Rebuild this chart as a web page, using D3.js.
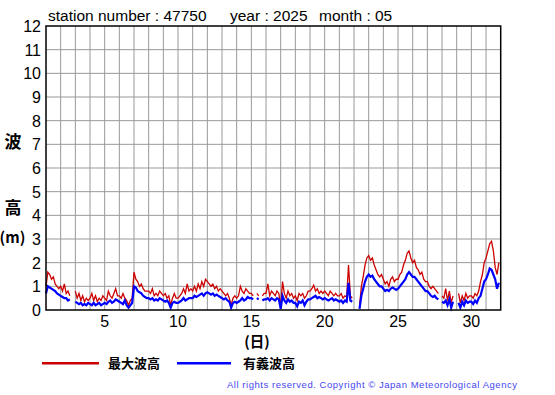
<!DOCTYPE html>
<html>
<head>
<meta charset="utf-8">
<script src="https://cdn.jsdelivr.net/npm/d3@7"></script>
<style>
  body { margin: 0; background: #fff; }
  svg { display: block; }
  text { font-family: "Liberation Sans", Arial, sans-serif; }
  .jp { font-family: "Noto Sans CJK JP", sans-serif; font-weight: bold; }
</style>
</head>
<body>
<svg id="chart" width="555" height="395"></svg>
<script>
// wave heights every 3 hours, one row per day (May 2025), null = missing
const sigWave = [
  0.7, 1.0, 0.95, 0.9, 0.85, 0.8, 0.7, 0.65,
  0.6, 0.55, 0.5, 0.5, 0.4, 0.45, null, null,
  0.35, 0.3, 0.25, 0.3, 0.2, 0.25, 0.2, 0.3,
  0.25, 0.2, 0.3, 0.2, 0.25, 0.3, 0.2, 0.25,
  0.3, 0.25, 0.35, 0.4, 0.3, 0.35, 0.45, 0.4,
  0.35, 0.3, 0.25, 0.4, 0.2, 0.1, 0.2, 0.3,
  1.0, 0.95, 0.8, 0.75, 0.7, 0.6, 0.55, 0.5,
  0.5, 0.45, 0.5, 0.4, 0.45, 0.4, 0.5, 0.45,
  0.4, 0.35, 0.4, 0.3, 0.1, 0.3, 0.35, 0.3,
  0.3, 0.35, 0.4, 0.5, 0.4, 0.45, 0.5, 0.5,
  0.5, 0.6, 0.55, 0.6, 0.65, 0.7, 0.6, 0.7,
  0.75, 0.7, 0.65, 0.7, 0.6, 0.65, 0.6, 0.55,
  0.5, 0.45, 0.5, 0.4, 0.35, 0.1, 0.3, 0.35,
  0.3, 0.35, 0.4, 0.5, 0.4, 0.45, 0.55, 0.5,
  0.5, 0.45, null, 0.5, 0.45, null, 0.4, 0.45,
  0.45, 0.5, 0.4, 0.5, 0.45, 0.4, 0.5, 0.45,
  0.05, 0.6, 0.4, 0.3, 0.45, 0.35, 0.4, 0.3,
  0.3, 0.15, 0.35, 0.3, 0.4, 0.2, 0.35, 0.45,
  0.45, 0.5, 0.55, 0.6, 0.5, 0.55, 0.5, 0.45,
  0.5, 0.45, 0.4, 0.45, 0.5, 0.4, 0.45, 0.4,
  0.35, 0.4, 0.3, 0.4, 0.35, 1.15, 0.4, 0.35,
  null, null, null, 0.05, 0.6, 0.9, 1.2, 1.4,
  1.5, 1.4, 1.45, 1.3, 1.2, 1.1, 1.0, 1.0,
  0.9, 0.8, 0.85, 0.8, 0.9, 0.95, 0.9, 0.85,
  0.9, 1.0, 1.1, 1.2, 1.3, 1.5, 1.6, 1.5,
  1.4, 1.4, 1.3, 1.2, 1.1, 1.0, 0.9, 0.8,
  0.8, 0.7, 0.6, 0.55, 0.6, 0.5, 0.45, null,
  0.35, 0.3, 0.4, 0.2, 0.45, 0.1, 0.35, null,
  null, 0.3, 0.1, 0.35, 0.2, 0.4, 0.3, 0.35,
  0.35, 0.25, 0.4, 0.3, 0.5, 0.6, 0.9, 1.2,
  1.3, 1.5, 1.75, 1.7, 1.5, 1.3, 0.9, 1.15
];
const maxWave = [
  1.0, 1.6, 1.5, 1.3, 1.4, 1.1, 1.0, 0.9,
  1.0, 0.8, 1.1, 0.7, 0.8, 0.6, null, null,
  0.8, 0.5, 0.7, 0.4, 0.6, 0.35, 0.5, 0.4,
  0.5, 0.7, 0.4, 0.6, 0.35, 0.5, 0.4, 0.6,
  0.5, 0.4, 0.8, 0.6, 0.5, 0.7, 0.9, 0.6,
  0.6, 0.5, 0.7, 0.5, 0.4, 0.2, 0.4, 0.5,
  1.6, 1.3, 1.2, 1.0, 1.1, 0.9, 0.8, 0.8,
  0.8, 0.7, 0.9, 0.6, 0.7, 0.6, 0.8, 0.7,
  0.6, 0.7, 0.5, 0.6, 0.2, 0.5, 0.7, 0.5,
  0.5, 0.6, 0.7, 0.9, 0.7, 1.1, 0.8, 0.9,
  0.8, 1.0, 0.8, 1.1, 0.9, 1.2, 1.0, 1.3,
  1.2, 1.1, 1.0, 1.1, 0.9, 1.0, 0.8, 0.9,
  0.8, 0.7, 0.6, 0.7, 0.5, 0.2, 0.5, 0.6,
  0.5, 0.6, 1.0, 0.8, 0.7, 0.9, 0.8, 0.7,
  0.7, 0.6, null, 0.7, 0.6, null, 0.6, 0.7,
  0.7, 1.1, 0.6, 0.8, 0.7, 0.6, 0.8, 0.7,
  0.1, 1.2, 0.7, 0.5, 0.8, 0.6, 0.7, 0.5,
  0.6, 0.4, 0.7, 0.6, 0.7, 0.5, 0.6, 0.8,
  0.8, 0.9, 1.05, 0.8, 0.9, 0.7, 0.8, 0.7,
  0.8, 0.7, 0.6, 0.8, 0.7, 0.6, 0.7, 0.6,
  0.6, 0.7, 0.5, 0.6, 0.55, 1.9, 0.6, 0.5,
  null, null, null, 0.15, 1.0, 1.4, 1.9, 2.2,
  2.3, 2.1, 2.2, 1.9, 1.7, 1.5, 1.4, 1.5,
  1.3, 1.1, 1.2, 1.0, 1.3, 1.4, 1.2, 1.3,
  1.3, 1.5, 1.6, 1.9, 2.1, 2.4, 2.5, 2.2,
  2.0, 2.1, 1.8, 1.7, 1.5, 1.6, 1.3, 1.2,
  1.2, 1.0, 0.9, 1.0, 0.9, 0.8, 0.7, null,
  0.6, 0.5, 0.9, 0.4, 0.8, 0.3, 0.6, null,
  null, 0.7, 0.3, 0.6, 0.4, 0.7, 0.5, 0.6,
  0.6, 0.5, 0.7, 0.6, 0.8, 1.2, 1.5, 2.0,
  2.2, 2.5, 2.8, 2.9, 2.5, 1.8, 1.5, 2.0
];
const xTicks = [5, 10, 15, 20, 25, 30];
const yTicks = [0, 1, 2, 3, 4, 5, 6, 7, 8, 9, 10, 11, 12];
const stepsPerDay = 8;

const svg = d3.select("#chart");
const plotL = 46, plotR = 500.7, plotT = 26, plotB = 310;

const x = d3.scaleLinear().domain([1, 32]).range([plotL, plotR]);
const y = d3.scaleLinear().domain([0, 12]).range([plotB, plotT]);

// grid
const g = svg.append("g");
g.selectAll("line.v")
  .data(d3.range(2, 32))
  .join("line")
  .attr("x1", d => x(d)).attr("x2", d => x(d))
  .attr("y1", plotT).attr("y2", plotB)
  .attr("stroke", "#999").attr("stroke-width", 1);
g.selectAll("line.h")
  .data(yTicks.slice(1, -1))
  .join("line")
  .attr("x1", plotL).attr("x2", plotR)
  .attr("y1", d => y(d)).attr("y2", d => y(d))
  .attr("stroke", "#999").attr("stroke-width", 1);

// series
const line = d3.line()
  .defined(d => d.v != null)
  .x(d => x(d.t))
  .y(d => y(d.v));
const toPts = arr => arr.map((v, i) => ({ t: 1 + i / stepsPerDay, v }));

svg.append("path")
  .datum(toPts(maxWave))
  .attr("d", line)
  .attr("fill", "none")
  .attr("stroke", "#cc0000")
  .attr("stroke-width", 1.3);
svg.append("path")
  .datum(toPts(sigWave))
  .attr("d", line)
  .attr("fill", "none")
  .attr("stroke", "#0000ff")
  .attr("stroke-width", 2.2);

// frame
svg.append("rect")
  .attr("x", plotL).attr("y", plotT)
  .attr("width", plotR - plotL).attr("height", plotB - plotT)
  .attr("fill", "none").attr("stroke", "#000").attr("stroke-width", 1.5);

// y tick labels
svg.append("g").selectAll("text")
  .data(yTicks)
  .join("text")
  .attr("x", 41)
  .attr("y", d => y(d) + 6)
  .attr("text-anchor", "end")
  .attr("font-size", 16)
  .text(d => d);

// x tick labels
svg.append("g").selectAll("text")
  .data(xTicks)
  .join("text")
  .attr("x", d => x(d))
  .attr("y", 327)
  .attr("text-anchor", "middle")
  .attr("font-size", 16)
  .text(d => d);

// title
const title = svg.append("g").attr("font-size", 15.5);
title.append("text").attr("x", 48).attr("y", 21).text("station number : 47750");
title.append("text").attr("x", 230).attr("y", 21).text("year : 2025");
title.append("text").attr("x", 319).attr("y", 21).text("month : 05");

// axis names
svg.append("text").attr("class", "jp").attr("x", 13).attr("y", 148)
  .attr("text-anchor", "middle").attr("font-size", 17).text("波");
svg.append("text").attr("class", "jp").attr("x", 13).attr("y", 214)
  .attr("text-anchor", "middle").attr("font-size", 17).text("高");
svg.append("text").attr("class", "jp").attr("x", 12.5).attr("y", 243)
  .attr("text-anchor", "middle").attr("font-size", 15).text("(m)");
svg.append("text").attr("class", "jp").attr("x", 257).attr("y", 347)
  .attr("text-anchor", "middle").attr("font-size", 14.5).text("(日)");

// legend
const legend = [
  { name: "最大波高", color: "#cc0000", x0: 42, x1: 99, tx: 108 },
  { name: "有義波高", color: "#0000ff", x0: 177, x1: 231, tx: 243 }
];
const lg = svg.append("g").selectAll("g").data(legend).join("g");
lg.append("line")
  .attr("x1", d => d.x0).attr("x2", d => d.x1)
  .attr("y1", 363.3).attr("y2", 363.3)
  .attr("stroke", d => d.color).attr("stroke-width", 2.6);
lg.append("text")
  .attr("class", "jp")
  .attr("x", d => d.tx).attr("y", 368)
  .attr("font-size", 13)
  .text(d => d.name);

svg.append("text")
  .attr("x", 227).attr("y", 388)
  .attr("font-size", 9.5)
  .attr("fill", "#4646f0")
  .attr("textLength", 290)
  .attr("lengthAdjust", "spacing")
  .text("All rights reserved. Copyright © Japan Meteorological Agency");
</script>
</body>
</html>
